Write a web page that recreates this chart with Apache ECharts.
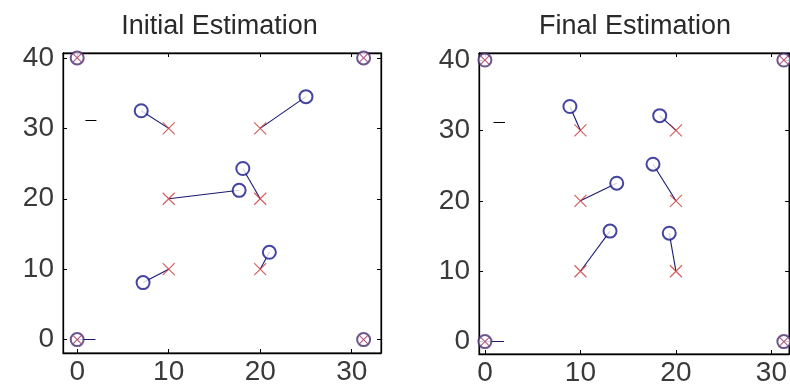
<!DOCTYPE html>
<html>
<head>
<meta charset="utf-8">
<script src="https://cdn.jsdelivr.net/npm/echarts@6/dist/echarts.min.js"></script>
<style>html,body{margin:0;padding:0;background:#fff;}#c{width:790px;height:389px;}</style>
</head>
<body>
<div id="c"></div>
<script>
// ---- data ----
const xTicks = [0, 10, 20, 30];
const yTicks = [0, 10, 20, 30, 40];
const titles = ['Initial Estimation', 'Final Estimation'];
// anchor nodes (circle + cross)
const anchors = [[0, 0], [0, 40], [31.3, 40], [31.3, 0]];
// true positions (red crosses)
const truePos = [[10, 30], [20, 30], [10, 20], [20, 20], [10, 10], [20, 10]];
// estimated positions (blue circles), same order as truePos
const initialEst = [[7.0, 32.5], [25.0, 34.5], [17.7, 21.2], [18.1, 24.3], [7.2, 8.1], [21.0, 12.4]];
const finalEst = [[8.9, 33.4], [18.3, 32.1], [13.8, 22.5], [17.6, 25.2], [13.1, 15.7], [19.3, 15.4]];
// small extra segments
const dashSeg = [[0.9, 31.2], [2.1, 31.2]];
const anchorSeg = [[0, 0], [2.0, 0]];

const chart = echarts.init(document.getElementById('c'), null, {renderer: 'canvas'});

const FONT = 'Liberation Sans, Arial, sans-serif';
const BLUE = '#16168a';
const RED = '#c83a3a';
const PURPLE = '#4a2a70';
const CROSS = 'path://M0,0L10,10M10,0L0,10';

const grids = [
  {left: 63, top: 53, width: 318, height: 300},
  {left: 479, top: 53, width: 312, height: 301}
];
const titleCenters = [219.5, 635];
const ranges = [
  {x: [-1.55, 33.2], y: [-1.9, 40.7]},
  {x: [-0.62, 31.85], y: [-1.76, 41.0]}
];

function mkAxis(type, pos, gi, r, showLabel) {
  return {
    type: 'value',
    gridIndex: gi,
    position: pos,
    min: r[0], max: r[1],
    splitLine: {show: false},
    axisLine: {show: true, onZero: false, lineStyle: {color: '#000', width: 1.3}},
    axisTick: {show: true, inside: true, length: 4, lineStyle: {color: '#000', width: 1},
      customValues: type === 'x' ? xTicks : yTicks},
    axisLabel: {show: showLabel, customValues: type === 'x' ? xTicks : yTicks,
      fontFamily: FONT, fontSize: 28, color: '#3a3a3a',
      margin: type === 'x' ? 5 : 9}
  };
}

const xAxes = [], yAxes = [], series = [];
grids.forEach((g, gi) => {
  xAxes.push(mkAxis('x', 'bottom', gi, ranges[gi].x, true));
  xAxes.push(mkAxis('x', 'top', gi, ranges[gi].x, false));
  yAxes.push(mkAxis('y', 'left', gi, ranges[gi].y, true));
  yAxes.push(mkAxis('y', 'right', gi, ranges[gi].y, false));
  const xi = gi * 2, yi = gi * 2;
  const est = gi === 0 ? initialEst : finalEst;
  series.push({
    type: 'lines', coordinateSystem: 'cartesian2d', xAxisIndex: xi, yAxisIndex: yi,
    silent: true, z: 2,
    lineStyle: {color: '#1a1a70', width: 1.1, opacity: 1},
    data: est.map((e, i) => ({coords: [e, truePos[i]]}))
      .concat([{coords: anchorSeg}])
  });
  series.push({
    type: 'lines', coordinateSystem: 'cartesian2d', xAxisIndex: xi, yAxisIndex: yi,
    silent: true, z: 2,
    lineStyle: {color: '#000', width: 1.2, opacity: 1},
    data: [{coords: dashSeg}]
  });
  series.push({
    type: 'scatter', xAxisIndex: xi, yAxisIndex: yi, z: 3, silent: true,
    symbol: CROSS, symbolSize: 12,
    itemStyle: {color: 'transparent', borderColor: RED, borderWidth: 1.2},
    data: truePos
  });
  series.push({
    type: 'scatter', xAxisIndex: xi, yAxisIndex: yi, z: 4, silent: true,
    symbol: 'emptyCircle', symbolSize: 13,
    itemStyle: {color: BLUE, borderColor: BLUE, borderWidth: 1.4},
    data: est
  });
  series.push({
    type: 'scatter', xAxisIndex: xi, yAxisIndex: yi, z: 4, silent: true,
    symbol: 'emptyCircle', symbolSize: 13,
    itemStyle: {color: PURPLE, borderColor: PURPLE, borderWidth: 1.4},
    data: anchors
  });
  series.push({
    type: 'scatter', xAxisIndex: xi, yAxisIndex: yi, z: 5, silent: true,
    symbol: CROSS, symbolSize: 8,
    itemStyle: {color: 'transparent', borderColor: '#a03060', borderWidth: 1.1},
    data: anchors
  });
});

chart.setOption({
  animation: false,
  backgroundColor: '#fff',
  title: titles.map((t, i) => ({
    text: t,
    left: titleCenters[i] - 5,
    textAlign: 'center',
    top: 8,
    textStyle: {fontFamily: FONT, fontSize: 27, fontWeight: 'normal', color: '#2a2a2a'}
  })),
  grid: grids.map(g => Object.assign({show: true, borderColor: '#000', borderWidth: 1, backgroundColor: '#fff'}, g)),
  xAxis: xAxes,
  yAxis: yAxes,
  series: series
});
</script>
</body>
</html>
